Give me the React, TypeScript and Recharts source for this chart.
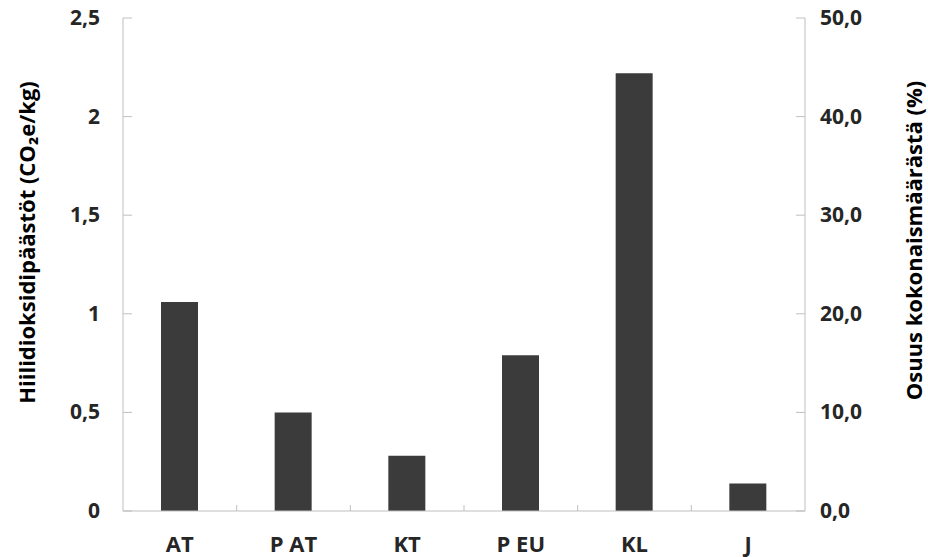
import { Bar, BarChart, Label, XAxis, YAxis } from "recharts";

// CO2e emissions per kg by category
const categories = ["AT", "P AT", "KT", "P EU", "KL", "J"];
const emissions = [1.06, 0.5, 0.28, 0.79, 2.22, 0.14];
const leftTicks = [0, 0.5, 1, 1.5, 2, 2.5];
const rightTicks = [0, 10, 20, 30, 40, 50];

const data = categories.map((name, i) => ({ name, value: emissions[i] }));

const axisColor = "#bfbfbf";
const font = "'Open Sans', sans-serif";
const tickFont = { fill: "#262626", fontSize: 21, fontWeight: 700, fontFamily: font };
const titleFont = { fill: "#000", fontSize: 22, fontWeight: 700, fontFamily: font };

const leftLabel = (v: number) => (v === 0 ? "0" : String(v).replace(".", ","));
const rightLabel = (v: number) => v.toFixed(1).replace(".", ",");

// tick line drawn inside the plot plus the label outside the axis
function LeftTick({ x, y, payload }: any) {
  const ax = x + 23;
  return (
    <g>
      <line x1={ax} x2={ax + 9} y1={y} y2={y} stroke={axisColor} />
      <text x={x} y={y} dy={7} textAnchor="end" {...tickFont}>
        {leftLabel(payload.value)}
      </text>
    </g>
  );
}

function RightTick({ x, y, payload }: any) {
  const ax = x - 15;
  return (
    <g>
      <line x1={ax - 9} x2={ax} y1={y} y2={y} stroke={axisColor} />
      <text x={x} y={y} dy={7} textAnchor="start" {...tickFont}>
        {rightLabel(payload.value)}
      </text>
    </g>
  );
}

// category label, with a short inward tick on the boundary to its right
function CategoryTick({ x, y, payload, index, visibleTicksCount }: any) {
  const edge = x + (payload.offset ?? 0);
  return (
    <g>
      {index < visibleTicksCount - 1 && <line x1={edge} x2={edge} y1={y} y2={y - 6} stroke={axisColor} />}
      <text x={x} y={y} dy={41} textAnchor="middle" {...tickFont} fontSize={22}>
        {payload.value}
      </text>
    </g>
  );
}

// vertical axis title, centred on (cx, cy)
function AxisTitle({ cx, cy, text }: { cx: number; cy: number; text: string }) {
  return (
    <text
      x={cx}
      y={cy}
      transform={`rotate(-90 ${cx} ${cy})`}
      textAnchor="middle"
      dominantBaseline="central"
      {...titleFont}
    >
      {text}
    </text>
  );
}

export default function App() {
  return (
    <div style={{ position: "absolute", left: 0, top: 0, background: "#fff" }}>
      <BarChart width={928} height={557} data={data} margin={{ top: 18, right: 0, left: 0, bottom: 0 }} barSize={37}>
        <XAxis
          dataKey="name"
          height={46}
          stroke={axisColor}
          tickLine={false}
          tickSize={0}
          tickMargin={0}
          interval={0}
          tick={<CategoryTick />}
        />
        <YAxis
          yAxisId="left"
          width={123}
          domain={[0, 2.5]}
          ticks={leftTicks}
          interval={0}
          stroke={axisColor}
          tickLine={false}
          tickSize={0}
          tickMargin={23}
          tick={<LeftTick />}
        >
          <Label
            content={({ viewBox }: any) => (
              <AxisTitle cx={viewBox.x + 26} cy={viewBox.y + viewBox.height / 2 - 22} text="Hiilidioksidipäästöt  (CO₂e/kg)" />
            )}
          />
        </YAxis>
        <YAxis
          yAxisId="right"
          orientation="right"
          width={123}
          domain={[0, 50]}
          allowDataOverflow
          ticks={rightTicks}
          interval={0}
          stroke={axisColor}
          tickLine={false}
          tickSize={0}
          tickMargin={15}
          tick={<RightTick />}
        >
          <Label
            content={({ viewBox }: any) => (
              <AxisTitle
                cx={viewBox.x + viewBox.width - 15}
                cy={viewBox.y + viewBox.height / 2 - 24}
                text="Osuus kokonaismäärästä  (%)"
              />
            )}
          />
        </YAxis>
        <Bar dataKey="value" yAxisId="left" fill="#3b3b3b" isAnimationActive={false} />
      </BarChart>
    </div>
  );
}
